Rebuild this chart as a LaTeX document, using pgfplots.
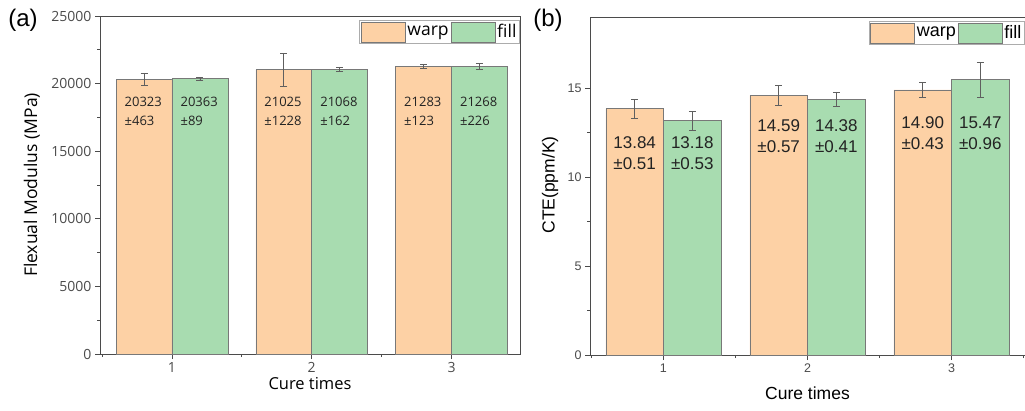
\documentclass[border=0pt]{standalone}
\usepackage{pgfplots}
\pgfplotsset{compat=1.18}
\usepackage{fontspec}
\setmainfont{Liberation Sans}
\newfontfamily\afont{Open Sans}
\definecolor{warpc}{RGB}{253,209,165}
\definecolor{fillc}{RGB}{168,220,176}
\definecolor{axc}{RGB}{75,75,75}
\definecolor{ebc}{RGB}{95,95,95}
\definecolor{barl}{RGB}{120,120,120}
\definecolor{txc}{RGB}{35,35,35}
\pgfplotsset{
  myaxis/.style={
    scale only axis,
    axis line style={axc, line width=0.9pt},
    tick style={axc, line width=0.8pt},
    tick align=outside,
    major tick length=5pt, minor tick length=3pt,
    tick pos=left,
    xtick={1,2,3}, minor xtick={0.5,1.5,2.5,3.5},
    minor y tick num=1,
    ymin=0,
    /pgf/number format/assume math mode=true,
    scaled y ticks=false,
    /pgf/number format/set thousands separator={},
    legend columns=2,
    legend style={at={(rel axis cs:1,0.988)}, anchor=north east, draw=gray!65, line width=1.1pt, inner sep=1pt,
      /tikz/every even column/.append style={column sep=0pt}},
  },
  barbase/.style={ybar, bar width=0.4, bar shift=0, line width=0.6pt, draw=barl,
    legend image code/.code={\draw[##1, line width=0.6pt] (0pt,-10pt) rectangle (44pt,10pt);},
    /pgfplots/error bars/y dir=both, /pgfplots/error bars/y explicit,
    /pgfplots/error bars/error bar style={ebc, line width=0.7pt},
    /pgfplots/error bars/error mark options={rotate=90, mark size=3.5pt, ebc, line width=0.7pt}},
}
\begin{document}
\begin{tikzpicture}
\useasboundingbox (0,0) rectangle (1025pt,410pt);
% ---------------- (a)
\begin{axis}[myaxis, at={(100pt,56pt)}, anchor=south west,
  width=420pt, height=338pt,
  xmin=0.485, xmax=3.49, ymax=25000,
  ytick={0,5000,10000,15000,20000,25000},
  tick label style={font=\afont\fontsize{14}{15}\selectfont, text=axc},
  xlabel={Cure times}, ylabel={Flexual Modulus (MPa)},
  xlabel style={font=\afont\fontsize{16.5}{18}\selectfont, at={(axis description cs:0.5,-0.086)}, anchor=center},
  ylabel style={font=\afont\fontsize{17.5}{18}\selectfont, at={(axis description cs:-0.162,0.5)}, anchor=center},
  legend style={font=\afont\fontsize{17.5}{19}\selectfont},
]
% warp bars centred at cure time - 0.2, fill bars at cure time + 0.2
\addplot[fill=warpc, barbase] coordinates {(0.8,20323) +- (0,463) (1.8,21025) +- (0,1228) (2.8,21283) +- (0,123)};
\addlegendentry{warp}
\addplot[fill=fillc, barbase] coordinates {(1.2,20363) +- (0,89) (2.2,21068) +- (0,162) (3.2,21268) +- (0,226)};
\addlegendentry{fill}
\begin{scope}[every node/.style={font=\afont\fontsize{13}{19}\selectfont, text=txc, align=left, anchor=west, inner sep=0pt}]
\node at (axis cs:0.66,17950) {20323\\±463};
\node at (axis cs:1.06,17950) {20363\\±89};
\node at (axis cs:1.66,17950) {21025\\±1228};
\node at (axis cs:2.06,17950) {21068\\±162};
\node at (axis cs:2.66,17950) {21283\\±123};
\node at (axis cs:3.06,17950) {21268\\±226};
\end{scope}
\end{axis}
% ---------------- (b)
\begin{axis}[myaxis, at={(590pt,55pt)}, anchor=south west,
  width=435pt, height=338pt,
  xmin=0.49, xmax=3.51, ymax=19,
  ytick={0,5,10,15},
  tick label style={font=\fontsize{12.5}{14}\selectfont, text=axc},
  xlabel={Cure times}, ylabel={CTE(ppm/K)},
  xlabel style={font=\fontsize{17.5}{19}\selectfont, at={(axis description cs:0.5,-0.112)}, anchor=center},
  ylabel style={font=\fontsize{17.5}{19}\selectfont, at={(axis description cs:-0.092,0.503)}, anchor=center},
  legend style={font=\fontsize{18}{20}\selectfont},
]
\addplot[fill=warpc, barbase] coordinates {(0.8,13.84) +- (0,0.51) (1.8,14.59) +- (0,0.57) (2.8,14.90) +- (0,0.43)};
\addlegendentry{warp}
\addplot[fill=fillc, barbase] coordinates {(1.2,13.18) +- (0,0.53) (2.2,14.38) +- (0,0.41) (3.2,15.47) +- (0,0.96)};
\addlegendentry{fill}
\begin{scope}[every node/.style={font=\fontsize{17}{21}\selectfont, text=txc, align=center, anchor=center, inner sep=0pt}]
\node at (axis cs:0.8,11.32) {13.84\\±0.51};
\node at (axis cs:1.2,11.32) {13.18\\±0.53};
\node at (axis cs:1.8,12.28) {14.59\\±0.57};
\node at (axis cs:2.2,12.28) {14.38\\±0.41};
\node at (axis cs:2.8,12.47) {14.90\\±0.43};
\node at (axis cs:3.2,12.47) {15.47\\±0.96};
\end{scope}
\end{axis}
\node[font=\fontsize{24}{26}\selectfont, anchor=center] at (23pt,390pt) {(a)};
\node[font=\fontsize{24}{26}\selectfont, anchor=center] at (548pt,390pt) {(b)};
\end{tikzpicture}
\end{document}
